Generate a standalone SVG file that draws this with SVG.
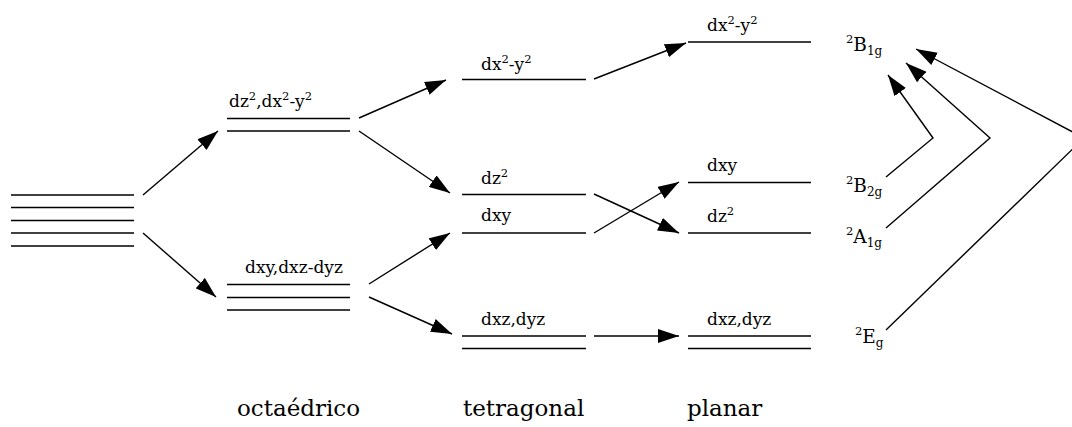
<svg xmlns="http://www.w3.org/2000/svg" width="1072" height="427" viewBox="0 0 1072 427">
  <defs>
    <marker id="head" markerUnits="userSpaceOnUse" viewBox="0 0 21 14" refX="21" refY="7" markerWidth="21" markerHeight="14" orient="auto">
      <path d="M0,0 L21,7 L0,14 Z" fill="#000"/>
    </marker>
  </defs>
  <style>
    .lvl { stroke: #000; stroke-width: 1.4; fill: none; }
    .con { stroke: #000; stroke-width: 1.4; fill: none; marker-end: url(#head); }
    text { fill: #000; font-family: 'DejaVu Serif', 'Liberation Serif', serif; }
    .lab { font-size: 17px; }
    .term { font-size: 18.5px; }
    .sup { font-size: 11.5px; }
    .sub { font-size: 12px; }
    .cap { font-size: 23px; }
  </style>

  <!-- free ion: five degenerate d levels -->
  <g id="free-ion">
    <line class="lvl" x1="11" y1="195" x2="134" y2="195"/>
    <line class="lvl" x1="11" y1="207.5" x2="134" y2="207.5"/>
    <line class="lvl" x1="11" y1="220.5" x2="134" y2="220.5"/>
    <line class="lvl" x1="11" y1="233" x2="134" y2="233"/>
    <line class="lvl" x1="11" y1="246" x2="134" y2="246"/>
  </g>

  <!-- octahedral field -->
  <g id="oct-eg">
    <line class="lvl" x1="227" y1="118.5" x2="350" y2="118.5"/>
    <line class="lvl" x1="227" y1="131" x2="350" y2="131"/>
    <text class="lab" x="229" y="107">dz<tspan class="sup" dy="-7">2</tspan><tspan dy="7">,dx</tspan><tspan class="sup" dy="-7">2</tspan><tspan dy="7">-y</tspan><tspan class="sup" dy="-7">2</tspan></text>
  </g>
  <g id="oct-t2g">
    <line class="lvl" x1="227" y1="284.5" x2="350" y2="284.5"/>
    <line class="lvl" x1="227" y1="297.5" x2="350" y2="297.5"/>
    <line class="lvl" x1="227" y1="310" x2="350" y2="310"/>
    <text class="lab" x="245" y="273">dxy,dxz-dyz</text>
  </g>

  <!-- tetragonal field -->
  <g id="tet-x2y2">
    <line class="lvl" x1="462" y1="79.5" x2="586" y2="79.5"/>
    <text class="lab" x="481" y="70">dx<tspan class="sup" dy="-7">2</tspan><tspan dy="7">-y</tspan><tspan class="sup" dy="-7">2</tspan></text>
  </g>
  <g id="tet-z2">
    <line class="lvl" x1="462" y1="194.5" x2="586" y2="194.5"/>
    <text class="lab" x="481" y="184">dz<tspan class="sup" dy="-7">2</tspan></text>
  </g>
  <g id="tet-xy">
    <line class="lvl" x1="462" y1="233" x2="586" y2="233"/>
    <text class="lab" x="481" y="221">dxy</text>
  </g>
  <g id="tet-xzyz">
    <line class="lvl" x1="462" y1="336" x2="586" y2="336"/>
    <line class="lvl" x1="462" y1="348.5" x2="586" y2="348.5"/>
    <text class="lab" x="481" y="325">dxz,dyz</text>
  </g>

  <!-- square planar field -->
  <g id="pl-x2y2">
    <line class="lvl" x1="688" y1="42" x2="811" y2="42"/>
    <text class="lab" x="707" y="31">dx<tspan class="sup" dy="-7">2</tspan><tspan dy="7">-y</tspan><tspan class="sup" dy="-7">2</tspan></text>
  </g>
  <g id="pl-xy">
    <line class="lvl" x1="688" y1="182.5" x2="811" y2="182.5"/>
    <text class="lab" x="707" y="171">dxy</text>
  </g>
  <g id="pl-z2">
    <line class="lvl" x1="688" y1="233" x2="811" y2="233"/>
    <text class="lab" x="707" y="222">dz<tspan class="sup" dy="-7">2</tspan></text>
  </g>
  <g id="pl-xzyz">
    <line class="lvl" x1="688" y1="336" x2="811" y2="336"/>
    <line class="lvl" x1="688" y1="348.5" x2="811" y2="348.5"/>
    <text class="lab" x="707" y="325">dxz,dyz</text>
  </g>

  <!-- term symbols -->
  <g id="term-B1g">
    <text class="term" x="846" y="51"><tspan class="sup" dy="-8">2</tspan><tspan dy="8">B</tspan><tspan class="sub" dy="4">1g</tspan></text>
  </g>
  <g id="term-B2g">
    <text class="term" x="846" y="192"><tspan class="sup" dy="-8">2</tspan><tspan dy="8">B</tspan><tspan class="sub" dy="4">2g</tspan></text>
  </g>
  <g id="term-A1g">
    <text class="term" x="846" y="243"><tspan class="sup" dy="-8">2</tspan><tspan dy="8">A</tspan><tspan class="sub" dy="4">1g</tspan></text>
  </g>
  <g id="term-Eg">
    <text class="term" x="855" y="343"><tspan class="sup" dy="-8">2</tspan><tspan dy="8">E</tspan><tspan class="sub" dy="4">g</tspan></text>
  </g>

  <!-- field labels -->
  <g id="captions">
    <text class="cap" x="237" y="416">octaédrico</text>
    <text class="cap" x="463" y="416">tetragonal</text>
    <text class="cap" x="687" y="416">planar</text>
  </g>

  <!-- connectors -->
  <g id="connectors">
    <line class="con" x1="143" y1="195" x2="218" y2="131"/>
    <line class="con" x1="143" y1="233" x2="216" y2="297"/>
    <line class="con" x1="359" y1="118" x2="446" y2="80"/>
    <line class="con" x1="359" y1="131" x2="450" y2="193"/>
    <line class="con" x1="369" y1="284" x2="450" y2="233"/>
    <line class="con" x1="369" y1="297" x2="452" y2="334"/>
    <line class="con" x1="594" y1="79" x2="686" y2="43"/>
    <line class="con" x1="594" y1="194" x2="679" y2="233"/>
    <line class="con" x1="594" y1="233" x2="679" y2="182"/>
    <line class="con" x1="594" y1="336" x2="679" y2="336"/>
    <polyline class="con" points="886,177 933,138 888,75"/>
    <polyline class="con" points="886,228 990,138 906,63"/>
    <polyline class="con" points="886,330 1084,138 916,49"/>
  </g>
</svg>
